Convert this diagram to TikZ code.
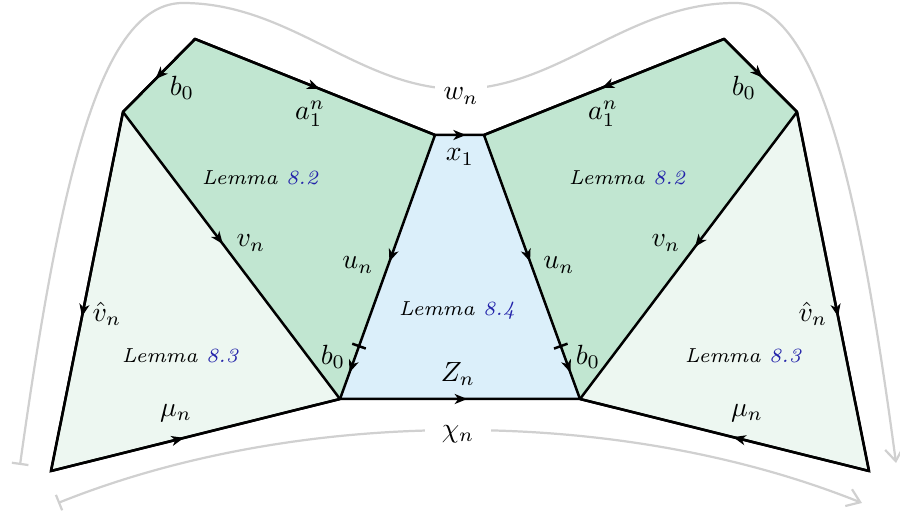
\documentclass[tikz,border=0pt]{standalone}
\usetikzlibrary{arrows.meta,decorations.markings}
\definecolor{midgreen}{RGB}{193,230,209}
\definecolor{lightgreen}{RGB}{237,247,241}
\definecolor{lightblue}{RGB}{219,239,250}
\definecolor{lemmablue}{RGB}{35,35,170}
\definecolor{curvegray}{RGB}{208,208,208}
\tikzset{
  edge/.style={line width=0.9pt},
  tiparrow/.style={postaction={decorate},decoration={markings,
      mark=at position #1 with {\arrow{Stealth[length=4.5pt,width=3.6pt,inset=1.3pt]}}}},
  tickedge/.style={postaction={decorate},decoration={markings,
      mark=at position 0.48 with {\arrow{Stealth[length=4.5pt,width=3.6pt,inset=1.3pt]}},
      mark=at position 0.8 with {\draw[line width=0.9pt] (0,-2.6pt)--(0,2.6pt);},
      mark=at position 0.9 with {\arrow{Stealth[length=4.5pt,width=3.6pt,inset=1.3pt]}}}},
  lbl/.style={inner sep=0pt},
  lemma/.style={inner sep=0pt,font=\fontsize{7.3}{9}\selectfont\itshape},
  gcurve/.style={curvegray,line width=0.8pt},
  gtips/.style={{Bar[width=6pt]}-{Straight Barb[length=4.5pt,width=6.5pt]}},
}
\newcommand{\lem}[1]{Lemma \textcolor{lemmablue}{#1}}
\begin{document}
\begin{tikzpicture}[x=0.36pt,y=-0.36pt]
\useasboundingbox (0,0) rectangle (900,518);
% vertices
\coordinate (L1) at (51,471);
\coordinate (L2) at (123,112);
\coordinate (L3) at (195,39);
\coordinate (X1) at (435,135);
\coordinate (X2) at (484,135);
\coordinate (R3) at (724,39);
\coordinate (R2) at (797,112);
\coordinate (R1) at (869,471);
\coordinate (Z1) at (340,399);
\coordinate (Z2) at (580,399);
% fills
\fill[lightgreen] (L1)--(L2)--(Z1)--cycle;
\fill[midgreen] (L2)--(L3)--(X1)--(Z1)--cycle;
\fill[lightblue] (X1)--(X2)--(Z2)--(Z1)--cycle;
\fill[midgreen] (X2)--(R3)--(R2)--(Z2)--cycle;
\fill[lightgreen] (R2)--(R1)--(Z2)--cycle;
% outline
\draw[edge] (L1)--(L2)--(L3)--(X1)--(X2)--(R3)--(R2)--(R1)--(Z2)--(Z1)--cycle;
% edges with arrows
\draw[edge,tiparrow=0.55] (L3)--(L2);
\draw[edge,tiparrow=0.52] (L3)--(X1);
\draw[edge,tiparrow=0.63] (X1)--(X2);
\draw[edge,tickedge] (X1)--(Z1);
\draw[edge,tiparrow=0.46] (L2)--(Z1);
\draw[edge,tiparrow=0.57] (L2)--(L1);
\draw[edge,tiparrow=0.46] (L1)--(Z1);
\draw[edge,tiparrow=0.53] (Z1)--(Z2);
\draw[edge,tiparrow=0.53] (R3)--(R2);
\draw[edge,tiparrow=0.51] (R3)--(X2);
\draw[edge,tickedge] (X2)--(Z2);
\draw[edge,tiparrow=0.47] (R2)--(Z2);
\draw[edge,tiparrow=0.57] (R2)--(R1);
\draw[edge,tiparrow=0.47] (R1)--(Z2);
% gray curves
\coordinate (TS) at (20,465);
\coordinate (TE) at (896,463);
\coordinate (BS) at (58,503);
\coordinate (BE) at (862,503);
\draw[gcurve,gtips] (TS) .. controls (60,180) and (100,3) .. (183,3)
  .. controls (290,3) and (360,89) .. (459,89)
  .. controls (558,89) and (628,3) .. (735,3)
  .. controls (818,3) and (858,180) .. (TE);
\draw[gcurve,gtips] (BS) .. controls (300,406) and (620,406) .. (BE);
\node[lbl,fill=white,inner xsep=3pt,inner ysep=3pt] (wn) at (461,96) {$w_n$};
\node[lbl,fill=white,inner xsep=6pt,inner ysep=3pt] (chin) at (458,434) {$\chi_n$};
% labels left
\node[lbl] (b0a) at (182,88) {$b_0$};
\node[lbl] (a1l) at (310,114) {$a_1^n$};
\node[lbl] (x1) at (460,157) {$x_1$};
\node[lemma] (lem2l) at (260,178) {\lem{8.2}};
\node[lbl] (vnl) at (251,243) {$v_n$};
\node[lbl] (unl) at (358,265) {$u_n$};
\node[lbl] (hvnl) at (107,314) {$\hat v_n$};
\node[lemma] (lem3l) at (180,356) {\lem{8.3}};
\node[lbl] (mul) at (176,413) {$\mu_n$};
\node[lbl] (b0c) at (333,357) {$b_0$};
\node[lemma] (lem4) at (457,311) {\lem{8.4}};
\node[lbl] (zn) at (458,374) {$Z_n$};
% labels right
\node[lbl] (a1r) at (603,114) {$a_1^n$};
\node[lbl] (b0b) at (744,88) {$b_0$};
\node[lemma] (lem2r) at (627,178) {\lem{8.2}};
\node[lbl] (vnr) at (666,243) {$v_n$};
\node[lbl] (unr) at (559,265) {$u_n$};
\node[lbl] (hvnr) at (813,314) {$\hat v_n$};
\node[lemma] (lem3r) at (743,356) {\lem{8.3}};
\node[lbl] (mur) at (747,413) {$\mu_n$};
\node[lbl] (b0d) at (588,357) {$b_0$};
\end{tikzpicture}
\end{document}
